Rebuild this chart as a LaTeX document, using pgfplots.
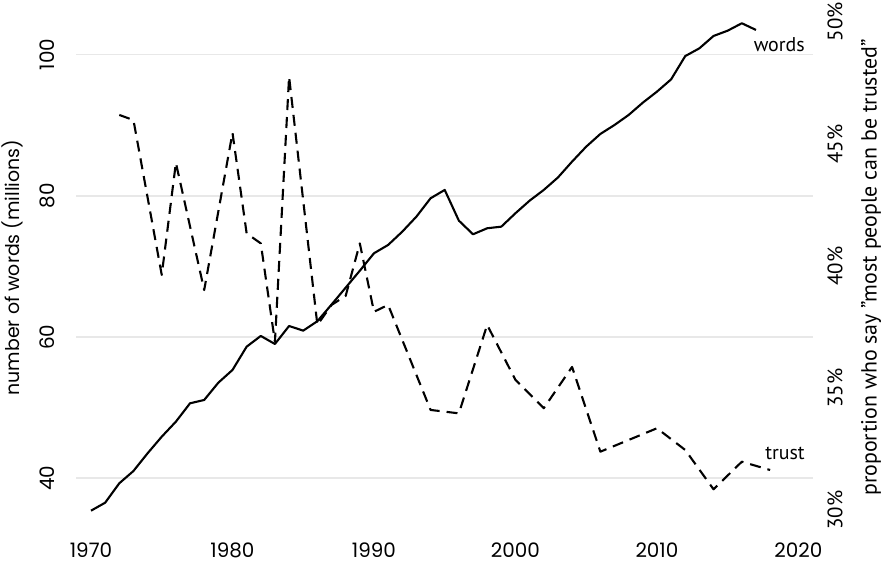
\documentclass[border=0pt]{standalone}
\usepackage{fontspec}
\setmainfont{Poppins}
\newfontfamily\ptsans{PT Sans}
\usepackage{pgfplots}
\pgfplotsset{compat=1.18}
\begin{document}
\begin{tikzpicture}
\path[use as bounding box] (0bp,0bp) rectangle (883bp,565bp);
\begin{axis}[
  at={(76bp,45bp)}, anchor=south west,
  scale only axis, width=737bp, height=505bp,
  xmin=1968.94, xmax=2021.03, ymin=34.09, ymax=105.62,
  axis line style={draw=none}, major tick length=0pt,
  xtick={1970,1980,...,2020}, ytick={40,60,80,100},
  /pgf/number format/1000 sep={},
  /pgf/number format/assume math mode=true,
  ymajorgrids, major grid style={draw=black!9, line width=1.6bp},
  xticklabel style={yshift=-30bp, anchor=center, font=\fontsize{20}{24}\selectfont},
  yticklabel style={xshift=-29bp, rotate=90, anchor=center, font=\fontsize{20}{24}\selectfont},
  ylabel={number of words (millions)},
  every axis y label/.style={at={(rel axis cs:0,0.5)}, xshift=-64bp, rotate=90, anchor=center, font=\fontsize{19}{23}\selectfont},
  clip=false,
]
\addplot[black, line width=2.1bp, line join=round] coordinates {
(1970,35.41) (1971,36.54) (1972,39.29) (1973,41.03) (1974,43.54) (1975,45.89)
(1976,48.02) (1977,50.62) (1978,51.09) (1979,53.54) (1980,55.34) (1981,58.64)
(1982,60.16) (1983,59.02) (1984,61.57) (1985,60.91) (1986,62.25) (1987,64.6)
(1988,67.0) (1989,69.4) (1990,71.87) (1991,73.05) (1992,74.93) (1993,77.06)
(1994,79.66) (1995,80.84) (1996,76.49) (1997,74.56) (1998,75.41) (1999,75.64)
(2000,77.54) (2001,79.32) (2002,80.84) (2003,82.6) (2004,84.85) (2005,86.97)
(2006,88.77) (2007,90.04) (2008,91.46) (2009,93.2) (2010,94.76) (2011,96.5)
(2012,99.8) (2013,100.9) (2014,102.65) (2015,103.4) (2016,104.45) (2017,103.5)
};
\node[anchor=base east, inner sep=0pt, font=\ptsans\fontsize{20}{24}\selectfont] at (axis cs:2020.46,100.42) {words};
\node[anchor=base east, inner sep=0pt, font=\ptsans\fontsize{20}{24}\selectfont] at (axis cs:2020.46,42.69) {trust};
\end{axis}
\begin{axis}[
  at={(76bp,45bp)}, anchor=south west,
  scale only axis, width=737bp, height=505bp,
  xmin=1968.94, xmax=2021.03, ymin=29.603, ymax=50.283,
  axis x line=none, axis y line*=right,
  axis line style={draw=none}, major tick length=0pt,
  ytick={30,35,40,45,50}, yticklabels={30\%,35\%,40\%,45\%,50\%},
  yticklabel style={xshift=22bp, rotate=90, anchor=center, font=\ptsans\fontsize{21}{25}\selectfont},
  ylabel={proportion who say ”most people can be trusted”},
  every axis y label/.style={at={(rel axis cs:1,0.5)}, xshift=58bp, rotate=90, anchor=center, font=\ptsans\fontsize{22}{26}\selectfont},
  clip=false,
]
\addplot[black, line width=2.1bp, line join=round, dash pattern=on 11bp off 7bp] coordinates {
(1972,46.19) (1973,45.98) (1975,39.64) (1976,44.23) (1978,39.02) (1980,45.46)
(1981,41.34) (1982,40.93) (1983,36.90) (1984,47.76) (1986,37.59) (1987,38.41)
(1988,38.78) (1989,40.93) (1990,38.13) (1991,38.41) (1994,34.11) (1996,33.97)
(1998,37.59) (2000,35.34) (2002,34.18) (2004,35.87) (2006,32.40) (2008,32.88)
(2010,33.36) (2012,32.47) (2014,30.86) (2016,31.99) (2018,31.65)
};
\end{axis}
\end{tikzpicture}
\end{document}
